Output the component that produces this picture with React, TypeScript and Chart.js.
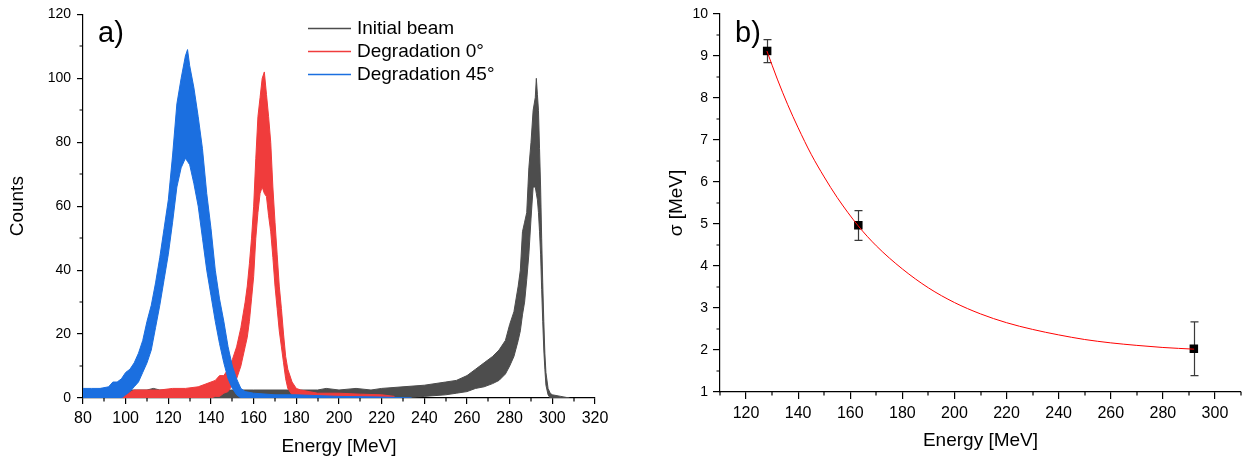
import { useEffect, useRef } from 'react';
import { Chart, registerables } from 'chart.js';

Chart.register(...registerables);

const FONT = '"Liberation Sans", Arial, Helvetica, sans-serif';

// ---------- Panel a) : energy spectra ----------
const seriesLabels = ['Initial beam', 'Degradation 0°', 'Degradation 45°'];
const seriesColors = ['#4d4d4d', '#f03c3c', '#1b6fe0'];

// Initial beam: energy, upper and lower envelope of the noisy histogram
const beamE = [80, 85, 90, 95, 100, 105, 110, 113, 116, 120, 125, 130, 135, 140, 145, 150, 155, 160, 170, 180, 190, 194, 200, 208, 215, 220, 230, 240, 250, 255, 260, 264, 268, 272, 275, 278, 280, 282, 284, 285, 286, 287, 288, 289, 290, 291, 292, 292.5, 293, 293.5, 294, 294.5, 295, 295.5, 296, 296.5, 297, 298, 299, 300, 304, 308];
const beamHi = [2.5, 2.5, 3, 2.5, 2.5, 2.5, 2.5, 3, 2.5, 2.5, 2.5, 2.5, 2.5, 3, 2.5, 2.5, 2.5, 2.5, 2.5, 2.5, 2.5, 3, 2.5, 3, 2.5, 3, 3.5, 4, 5, 5.5, 7, 9, 11, 13, 15, 18, 23, 27, 35, 40, 52, 55, 58, 72, 80, 90, 94, 100, 95, 90, 78, 66, 50, 36, 24, 14, 8, 3, 1.5, 1, 0.5, 0];
const beamLo = [0, 0, 0, 0, 0, 0, 0, 0, 0, 0, 0, 0, 0, 0, 0, 0, 0, 0, 0, 0, 0, 0, 0, 0, 0, 0, 0, 0.5, 1, 1.5, 2, 3, 3.5, 4.5, 5.5, 7.5, 10, 13, 18, 21, 26, 30, 37, 45, 56, 66, 66, 64, 62, 58, 52, 45, 34, 24, 15, 9, 4, 1, 0, 0, 0, 0];

// Degradation 0°
const deg0E = [97, 100, 104, 110, 116, 122, 128, 134, 140, 142, 144, 146, 148, 150, 152, 154, 156, 157, 158, 159, 160, 161, 162, 163, 164, 165, 166, 167, 168, 169, 170, 171, 172, 173, 174, 175, 176, 178, 180, 182, 186, 190, 200, 210, 220, 226];
const deg0Hi = [0.5, 1, 2.5, 2.5, 2.5, 3, 3, 3.5, 5, 5.5, 7, 7, 9, 12, 16, 22, 30, 35, 42, 50, 60, 75, 88, 94, 100, 102, 95, 88, 80, 66, 55, 45, 35, 28, 20, 13, 9, 5, 3, 2.5, 2, 1.5, 1.5, 1.2, 1, 0.5];
const deg0Lo = [0, 0, 0, 0, 0, 0, 0, 0, 0, 0.5, 0.5, 1.5, 2, 4, 6, 10, 16, 19, 24, 31, 38, 50, 58, 64, 66, 64, 63, 57, 52, 44, 35, 28, 21, 16, 11, 6, 3, 1, 0, 0, 0, 0, 0, 0, 0, 0];

// Degradation 45°
const deg45E = [80, 84, 88, 92, 94, 96, 98, 100, 102, 104, 106, 108, 110, 112, 114, 116, 118, 120, 122, 124, 126, 128, 129, 130, 132, 134, 136, 138, 140, 142, 144, 146, 148, 150, 152, 154, 156, 160, 170, 180, 200, 220, 234];
const deg45Hi = [3, 3, 3, 3.5, 5, 5, 6, 8, 9, 11, 14, 18, 24, 29, 36, 44, 53, 62, 76, 92, 100, 107, 109, 104, 97, 88, 78, 64, 53, 40, 31, 24, 16, 10, 6, 3, 2, 1.5, 1, 1, 0.5, 0.3, 0];
const deg45Lo = [0, 0, 0, 0, 0, 0, 0, 1, 2, 3.5, 5, 8, 11, 15, 22, 29, 37, 45, 55, 66, 72, 75, 74, 73, 67, 60, 50, 40, 32, 24, 17, 11, 6, 3, 1, 0, 0, 0, 0, 0, 0, 0, 0];

const xTicksA = [80, 100, 120, 140, 160, 180, 200, 220, 240, 260, 280, 300, 320];
const xMinorA = [90, 110, 130, 150, 170, 190, 210, 230, 250, 270, 290, 310];
const yTicksA = [0, 20, 40, 60, 80, 100, 120];
const yMinorA = [10, 30, 50, 70, 90, 110];

// ---------- Panel b) : sigma vs energy ----------
const energyB = [128.1, 163.1, 291.9];
const sigmaB = [9.12, 4.97, 2.03];
const sigmaErrLo = [8.84, 4.61, 1.39];
const sigmaErrHi = [9.39, 5.32, 2.67];
const fitE = [128, 132, 136, 140, 145, 150, 155, 163, 170, 180, 190, 200, 210, 220, 230, 240, 250, 260, 270, 280, 292];
const fitSigma = [9.12, 8.45, 7.84, 7.29, 6.66, 6.12, 5.63, 4.96, 4.48, 3.93, 3.48, 3.13, 2.86, 2.65, 2.49, 2.36, 2.25, 2.17, 2.11, 2.06, 2.02];

const xTicksB = [120, 140, 160, 180, 200, 220, 240, 260, 280, 300];
const xMinorB = [110, 130, 150, 170, 190, 210, 230, 250, 270, 290, 310];
const yTicksB = [1, 2, 3, 4, 5, 6, 7, 8, 9, 10];
const yMinorB = [1.5, 2.5, 3.5, 4.5, 5.5, 6.5, 7.5, 8.5, 9.5];

const pts = (xs: number[], ys: number[]) => xs.map((x, i) => ({ x, y: ys[i] }));

const minorTicksPlugin = {
  id: 'minorTicks',
  afterDraw(chart: any, _args: any, opts: any) {
    const { ctx, chartArea } = chart;
    const xs = chart.scales.x;
    const ys = chart.scales.y;
    ctx.save();
    ctx.strokeStyle = '#000';
    ctx.lineWidth = 1.2;
    ctx.beginPath();
    for (const v of opts.x || []) {
      const p = Math.round(xs.getPixelForValue(v));
      ctx.moveTo(p, chartArea.bottom);
      ctx.lineTo(p, chartArea.bottom + opts.len);
    }
    for (const v of opts.y || []) {
      const p = Math.round(ys.getPixelForValue(v));
      ctx.moveTo(chartArea.left - opts.len, p);
      ctx.lineTo(chartArea.left, p);
    }
    ctx.stroke();
    ctx.restore();
  },
};

const panelAPlugin = {
  id: 'panelA',
  afterDraw(chart: any) {
    const ctx = chart.ctx;
    ctx.save();
    ctx.fillStyle = '#000';
    ctx.font = `29px ${FONT}`;
    ctx.textBaseline = 'alphabetic';
    ctx.textAlign = 'left';
    ctx.fillText('a)', 98, 42);
    ctx.font = `19px ${FONT}`;
    ctx.textBaseline = 'middle';
    seriesLabels.forEach((lab, i) => {
      const y = 28.5 + i * 23;
      ctx.strokeStyle = seriesColors[i];
      ctx.lineWidth = 1.3;
      ctx.beginPath();
      ctx.moveTo(308, y);
      ctx.lineTo(351, y);
      ctx.stroke();
      ctx.fillText(lab, 357, y);
    });
    ctx.restore();
  },
};

const panelBPlugin = {
  id: 'panelB',
  beforeDatasetsDraw(chart: any) {
    const { ctx } = chart;
    const xs = chart.scales.x;
    const ys = chart.scales.y;
    ctx.save();
    ctx.strokeStyle = '#3a3a3a';
    ctx.lineWidth = 1.2;
    energyB.forEach((e, i) => {
      const x = Math.round(xs.getPixelForValue(e)) + 0.5;
      const y1 = ys.getPixelForValue(sigmaErrHi[i]);
      const y2 = ys.getPixelForValue(sigmaErrLo[i]);
      ctx.beginPath();
      ctx.moveTo(x, y1);
      ctx.lineTo(x, y2);
      ctx.moveTo(x - 4, y1);
      ctx.lineTo(x + 4, y1);
      ctx.moveTo(x - 4, y2);
      ctx.lineTo(x + 4, y2);
      ctx.stroke();
    });
    ctx.restore();
  },
  afterDraw(chart: any) {
    const ctx = chart.ctx;
    ctx.save();
    ctx.fillStyle = '#000';
    ctx.font = `29px ${FONT}`;
    ctx.textBaseline = 'alphabetic';
    ctx.textAlign = 'left';
    ctx.fillText('b)', 115, 42);
    ctx.restore();
  },
};

function axis(opts: any) {
  return {
    type: 'linear',
    min: opts.min,
    max: opts.max,
    afterBuildTicks: (s: any) => {
      s.ticks = opts.ticks.map((v: number) => ({ value: v }));
    },
    afterFit: (s: any) => {
      if (opts.width !== undefined) s.width = opts.width;
      if (opts.height !== undefined) s.height = opts.height;
    },
    border: { display: true, color: '#000', width: 1.2 },
    grid: {
      display: true,
      drawOnChartArea: false,
      drawTicks: true,
      tickLength: opts.tickLength,
      tickColor: '#000',
      tickWidth: 1.2,
      lineWidth: 1.2,
      color: '#000',
    },
    ticks: {
      color: '#000',
      font: { family: FONT, size: opts.fontSize },
      padding: opts.padding,
      maxRotation: 0,
      minRotation: 0,
      autoSkip: false,
    },
    title: {
      display: true,
      text: opts.title,
      color: '#000',
      font: { family: FONT, size: 19 },
      padding: opts.titlePadding,
    },
  };
}

function band(label: string, color: string, xs: number[], lo: number[], hi: number[], order: number) {
  return [
    {
      label,
      data: pts(xs, lo),
      borderColor: color,
      borderWidth: 1,
      pointRadius: 0,
      fill: false,
      tension: 0,
      order,
    },
    {
      label,
      data: pts(xs, hi),
      borderColor: color,
      backgroundColor: color,
      borderWidth: 1,
      pointRadius: 0,
      fill: '-1',
      tension: 0,
      order,
    },
  ];
}

export default function App() {
  const refA = useRef<HTMLCanvasElement>(null);
  const refB = useRef<HTMLCanvasElement>(null);

  useEffect(() => {
    const chartA = new Chart(refA.current as HTMLCanvasElement, {
      type: 'line',
      data: {
        datasets: [
          ...band(seriesLabels[0], seriesColors[0], beamE, beamLo, beamHi, 2),
          ...band(seriesLabels[1], seriesColors[1], deg0E, deg0Lo, deg0Hi, 1),
          ...band(seriesLabels[2], seriesColors[2], deg45E, deg45Lo, deg45Hi, 0),
        ] as any,
      },
      options: {
        responsive: false,
        maintainAspectRatio: false,
        animation: false,
        events: [],
        layout: { padding: { left: 0, top: 14, right: 25, bottom: 0 } },
        plugins: {
          legend: { display: false },
          tooltip: { enabled: false },
          minorTicks: { x: xMinorA, y: yMinorA, len: 3.5 },
        } as any,
        scales: {
          x: axis({ min: 80, max: 320, ticks: xTicksA, height: 60, tickLength: 6, fontSize: 16, padding: 5, title: 'Energy [MeV]', titlePadding: { top: 0, bottom: 0 } }),
          y: axis({ min: 0, max: 120, ticks: yTicksA, width: 83, tickLength: 6, fontSize: 14, padding: 6, title: 'Counts', titlePadding: { top: 6, bottom: 0 } }),
        } as any,
      },
      plugins: [minorTicksPlugin, panelAPlugin] as any,
    });

    const chartB = new Chart(refB.current as HTMLCanvasElement, {
      type: 'line',
      data: {
        datasets: [
          {
            label: 'fit',
            data: pts(fitE, fitSigma),
            borderColor: '#ff0000',
            borderWidth: 1,
            pointRadius: 0,
            fill: false,
            cubicInterpolationMode: 'monotone',
            order: 0,
          },
          {
            label: 'sigma',
            data: pts(energyB, sigmaB),
            showLine: false,
            pointStyle: 'rect',
            pointRadius: 6,
            backgroundColor: '#000',
            borderColor: '#000',
            borderWidth: 0,
            order: 1,
          },
        ] as any,
      },
      options: {
        responsive: false,
        maintainAspectRatio: false,
        animation: false,
        events: [],
        layout: { padding: { left: 0, top: 14, right: 3, bottom: 0 } },
        plugins: {
          legend: { display: false },
          tooltip: { enabled: false },
          minorTicks: { x: xMinorB, y: yMinorB, len: 3.5 },
        } as any,
        scales: {
          x: axis({ min: 110, max: 310, ticks: xTicksB, height: 66, tickLength: 7, fontSize: 16, padding: 5, title: 'Energy [MeV]', titlePadding: { top: 0, bottom: 6 } }),
          y: axis({ min: 1, max: 10, ticks: yTicksB, width: 100, tickLength: 7, fontSize: 14, padding: 5, title: 'σ [MeV]', titlePadding: { top: 45, bottom: 0 } }),
        } as any,
      },
      plugins: [minorTicksPlugin, panelBPlugin] as any,
    });

    return () => {
      chartA.destroy();
      chartB.destroy();
    };
  }, []);

  return (
    <div style={{ position: 'absolute', left: 0, top: 0, width: 1247, height: 458, background: '#fff' }}>
      <canvas ref={refA} width={620} height={458} style={{ position: 'absolute', left: 0, top: 0, width: 620, height: 458 }} />
      <canvas ref={refB} width={627} height={458} style={{ position: 'absolute', left: 620, top: 0, width: 627, height: 458 }} />
    </div>
  );
}
